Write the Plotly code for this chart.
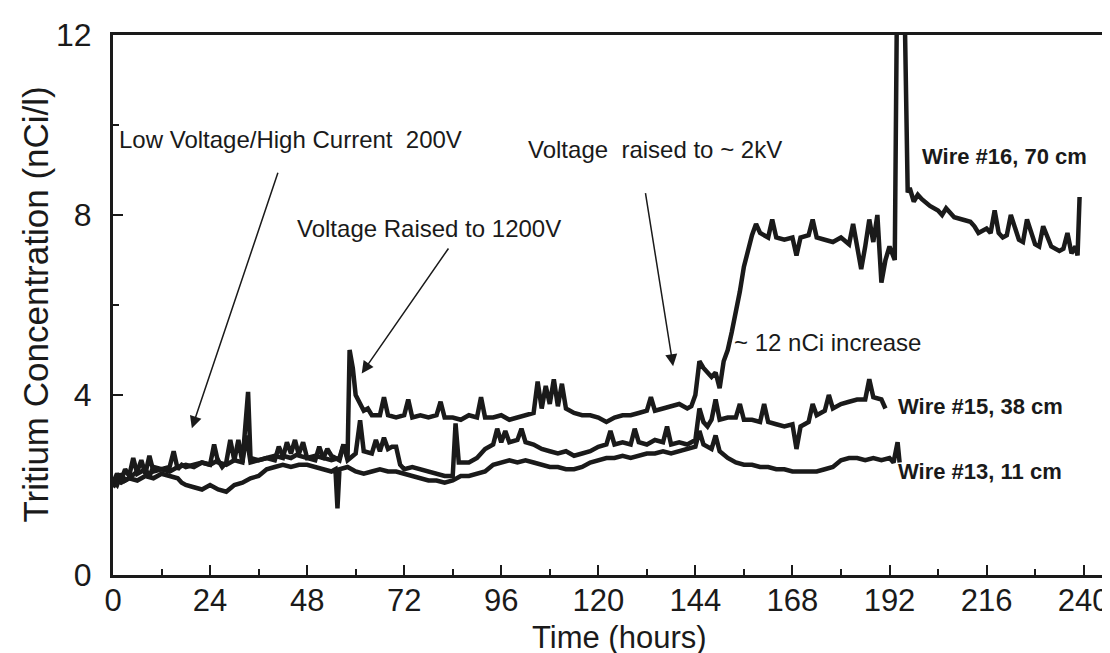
import plotly.graph_objects as go

# ---------------- data ----------------
w16_h = [0, 1, 2, 3, 4, 5, 6, 8, 9, 10, 12, 14, 15, 16, 17, 18, 20, 22, 24, 26, 27, 28, 29, 30, 32, 33, 34,
         36, 38, 40, 41, 42, 44, 46, 47, 48, 50, 52, 53, 54, 56, 57, 58, 58.5, 59.3, 60, 61, 62, 63, 64, 66,
         67, 68, 70, 72, 73, 74, 76, 78, 80, 81, 82, 84, 86, 88, 90, 91, 92, 94, 96, 98, 100, 102, 104, 105,
         106, 107, 108, 109, 110, 111, 112, 114, 116, 118, 120, 122, 124, 126, 128, 130, 132, 133, 134, 136,
         138, 140, 142, 143, 144, 145, 146, 147, 148, 149, 150, 151, 152, 153, 154, 155, 156, 157, 158, 159,
         160, 162, 163, 164, 166, 168, 169, 170, 172, 173, 174, 176, 178, 180, 182, 183, 184, 185, 186, 187,
         188, 189, 190, 191, 192, 193.3, 193.8, 194.5, 195.3, 195.8, 196.5, 197, 198, 199, 200, 202, 204,
         205, 206, 208, 210, 212, 213, 214, 216, 217, 218, 219, 220, 221, 222, 224, 225, 226, 228, 229, 230,
         232, 234, 235, 236, 237, 238, 238.5, 239]
w16_v = [2.05, 2.25, 2.1, 2.35, 2.2, 2.6, 2.25, 2.35, 2.2, 2.4, 2.35, 2.4, 2.75, 2.35, 2.45, 2.4, 2.45, 2.5,
         2.45, 2.55, 2.4, 2.5, 3.0, 2.55, 2.5, 3.1, 2.5, 2.55, 2.6, 2.55, 2.85, 2.65, 2.6, 2.7, 2.95, 2.6,
         2.65, 2.6, 2.8, 2.65, 2.55, 2.9, 2.6, 5.0, 4.6, 4.0, 3.8, 3.65, 3.7, 3.55, 3.55, 3.95, 3.55, 3.5,
         3.55, 3.9, 3.5, 3.55, 3.5, 3.55, 3.85, 3.5, 3.5, 3.45, 3.55, 3.5, 3.95, 3.5, 3.5, 3.55, 3.45, 3.5,
         3.55, 3.6, 4.3, 3.7, 4.2, 3.8, 4.35, 3.75, 4.25, 3.7, 3.6, 3.55, 3.55, 3.5, 3.4, 3.5, 3.55, 3.55,
         3.6, 3.65, 3.95, 3.65, 3.7, 3.75, 3.8, 3.7, 3.75, 4.0, 4.75, 4.6, 4.5, 4.4, 4.5, 4.15, 4.75, 5.0,
         5.4, 5.8, 6.3, 6.85, 7.2, 7.55, 7.8, 7.6, 7.5, 7.9, 7.5, 7.45, 7.5, 7.1, 7.5, 7.55, 7.9, 7.5, 7.45,
         7.4, 7.5, 7.35, 7.8, 7.3, 6.8, 7.3, 7.9, 7.4, 8.0, 6.5, 7.0, 7.3, 7.0, 12.3, 12.3, 12.3, 12.3, 8.5,
         8.6, 8.3, 8.45, 8.35, 8.2, 8.1, 8.0, 8.15, 7.95, 7.9, 7.85, 7.75, 7.6, 7.7, 7.6, 8.1, 7.6, 7.5, 7.55,
         8.0, 7.45, 7.4, 7.9, 7.35, 7.3, 7.75, 7.3, 7.2, 7.25, 7.6, 7.15, 7.3, 7.1, 8.4, 7.15]

w15_h = [0, 1, 2, 3, 4, 6, 7, 8, 9, 10, 12, 14, 16, 18, 20, 22, 24, 25, 26, 28, 30, 31, 32, 33.4, 34, 36,
         38, 40, 42, 43, 44, 45, 46, 48, 50, 51, 52, 54, 56, 57, 58, 60, 61.1, 62, 64, 65, 66, 67, 68, 69, 70,
         71, 72, 74, 76, 78, 80, 82, 84, 84.7, 85.5, 86, 88, 90, 92, 94, 95, 96, 97, 98, 100, 101, 102, 104,
         106, 108, 110, 112, 114, 116, 118, 120, 122, 123, 124, 126, 128, 129, 130, 132, 134, 136, 137, 138,
         140, 142, 144, 145, 146, 147, 148, 149, 150, 152, 154, 155, 156, 158, 160, 161, 162, 164, 166, 168,
         169, 170, 172, 173, 174, 176, 177, 178, 180, 182, 184, 186, 187, 188, 190, 191]
w15_v = [2.1, 2.0, 2.25, 2.1, 2.15, 2.3, 2.55, 2.25, 2.65, 2.3, 2.35, 2.3, 2.4, 2.45, 2.4, 2.5, 2.45, 2.9,
         2.5, 2.45, 2.55, 3.0, 2.5, 4.07, 2.6, 2.55, 2.6, 2.65, 2.6, 2.95, 2.7, 3.0, 2.65, 2.6, 2.55, 2.85,
         2.6, 2.55, 2.6, 2.9, 2.55, 2.7, 3.44, 2.75, 2.7, 3.0, 2.75, 3.05, 2.8, 2.85, 2.85, 2.45, 2.35, 2.4,
         2.35, 2.3, 2.25, 2.2, 2.2, 3.37, 2.5, 2.5, 2.5, 2.6, 2.8, 2.9, 3.25, 2.95, 3.2, 2.95, 3.0, 3.25, 2.95,
         2.9, 2.8, 2.75, 2.7, 2.75, 2.65, 2.7, 2.75, 2.85, 2.9, 3.2, 2.9, 2.95, 2.9, 3.25, 2.95, 2.9, 3.0,
         2.95, 3.3, 2.9, 2.95, 2.9, 3.0, 3.7, 3.4, 3.3, 3.45, 3.9, 3.45, 3.5, 3.5, 3.8, 3.45, 3.45, 3.4, 3.8,
         3.4, 3.35, 3.3, 3.35, 2.8, 3.3, 3.4, 3.8, 3.55, 3.65, 4.0, 3.7, 3.8, 3.85, 3.9, 3.9, 4.35, 3.95, 3.9,
         3.7]

w13_h = [0, 1, 2, 4, 6, 8, 10, 12, 14, 16, 17, 18, 20, 22, 24, 26, 28, 30, 32, 34, 36, 38, 40, 42, 44,
         46, 48, 50, 52, 54, 55, 55.5, 56, 58, 60, 62, 64, 66, 68, 70, 72, 74, 76, 78, 80, 82, 84, 86, 88, 90,
         92, 94, 96, 98, 100, 102, 104, 106, 108, 110, 112, 114, 116, 118, 120, 122, 124, 126, 128, 130, 132,
         134, 136, 138, 140, 142, 144, 145, 146, 148, 149, 150, 152, 154, 156, 158, 160, 162, 164, 166, 168,
         170, 172, 174, 176, 178, 180, 182, 184, 186, 188, 190, 192, 193, 194, 194.5]
w13_v = [1.95, 2.1, 2.05, 2.15, 2.1, 2.2, 2.15, 2.25, 2.2, 2.15, 2.05, 2.0, 1.95, 1.9, 2.0, 1.9, 1.85, 2.0,
         2.05, 2.15, 2.2, 2.35, 2.4, 2.45, 2.4, 2.45, 2.45, 2.4, 2.35, 2.3, 2.35, 1.48, 2.35, 2.4, 2.3, 2.25,
         2.3, 2.35, 2.3, 2.3, 2.25, 2.2, 2.15, 2.1, 2.1, 2.05, 2.1, 2.2, 2.2, 2.25, 2.3, 2.45, 2.5, 2.55, 2.5,
         2.55, 2.5, 2.45, 2.4, 2.4, 2.35, 2.35, 2.4, 2.5, 2.55, 2.6, 2.6, 2.65, 2.6, 2.65, 2.7, 2.7, 2.75, 2.7,
         2.75, 2.8, 2.85, 3.2, 2.9, 2.8, 3.1, 2.75, 2.6, 2.5, 2.45, 2.45, 2.4, 2.4, 2.35, 2.35, 2.3, 2.3, 2.3,
         2.3, 2.35, 2.4, 2.55, 2.6, 2.6, 2.55, 2.6, 2.55, 2.6, 2.5, 2.95, 2.5]

x_ticks = [0, 24, 48, 72, 96, 120, 144, 168, 192, 216, 240]
y_ticks = [0, 4, 8, 12]

FONT = "Liberation Sans, Arial, sans-serif"
INK = "#1a1a1a"

fig = go.Figure()
for hs, vs in [(w13_h, w13_v), (w15_h, w15_v), (w16_h, w16_v)]:
    fig.add_trace(go.Scatter(x=hs, y=vs, mode="lines",
                             line=dict(color=INK, width=4.5), showlegend=False,
                             hoverinfo="skip"))

def arrow(x, y, ax, ay):
    fig.add_annotation(x=x, y=y, ax=ax, ay=ay, xref="x", yref="y", axref="x", ayref="y",
                       text="", showarrow=True, arrowhead=2, arrowsize=1.6, arrowwidth=1.5,
                       arrowcolor=INK)

# text annotations: (text, x, y, size, bold)
labels = [
    ("Low Voltage/High Current  200V", 1.0, 9.67, 24, False),
    ("Voltage Raised to 1200V", 45.0, 7.7, 24, False),
    ("Voltage  raised to ~ 2kV", 102.0, 9.45, 24, False),
    ("~ 12 nCi increase", 153.0, 5.16, 24, False),
    ("Wire #16, 70 cm", 199.5, 9.3, 22, True),
    ("Wire #15, 38 cm", 193.5, 3.75, 22, True),
    ("Wire #13, 11 cm", 193.5, 2.3, 22, True),
]
for t, x, y, s, b in labels:
    fig.add_annotation(x=x, y=y, xref="x", yref="y", text=f"<b>{t}</b>" if b else t,
                       showarrow=False, xanchor="left", yanchor="middle",
                       font=dict(family=FONT, size=s, color=INK))

arrow(19.5, 3.26, 40.9, 8.97)
arrow(61.5, 4.48, 83.2, 7.29)
arrow(138.5, 4.64, 131.6, 8.52)

# axis titles as paper annotations
fig.add_annotation(x=0.5035, y=-0.152, xref="paper", yref="paper", text="Time (hours)",
                   showarrow=False, xanchor="center", yanchor="bottom",
                   font=dict(family=FONT, size=31, color=INK))
fig.add_annotation(x=-0.078, y=0.5, xref="paper", yref="paper",
                   text="Tritium Concentration (nCi/l)", textangle=-90,
                   showarrow=False, xanchor="center", yanchor="middle",
                   font=dict(family=FONT, size=35, color=INK))

fig.update_xaxes(range=[0, 248.5], tickvals=x_ticks, ticktext=[str(v) for v in x_ticks],
                 ticks="inside", ticklen=10, tickwidth=1.5, tickcolor=INK,
                 showline=True, linewidth=3, linecolor=INK, mirror=True,
                 showgrid=False, zeroline=False, ticklabelstandoff=-4,
                 tickfont=dict(family=FONT, size=31, color=INK),
                 minor=dict(dtick=12, tick0=0, ticks="inside", ticklen=6,
                            tickwidth=1.5, tickcolor=INK, showgrid=False))
fig.update_yaxes(range=[0, 12], tickvals=y_ticks, ticktext=[str(v) for v in y_ticks],
                 ticks="inside", ticklen=10, tickwidth=1.5, tickcolor=INK,
                 showline=True, linewidth=3, linecolor=INK, mirror=False,
                 showgrid=False, zeroline=False, ticklabelstandoff=12,
                 tickfont=dict(family=FONT, size=32, color=INK),
                 minor=dict(dtick=2, tick0=0, ticks="inside", ticklen=6,
                            tickwidth=1.5, tickcolor=INK, showgrid=False))

fig.update_layout(width=1110, height=653, margin=dict(l=105, r=0, t=27, b=86),
                  paper_bgcolor="white", plot_bgcolor="white",
                  font=dict(family=FONT, color=INK))

fig.write_html("out.html")
